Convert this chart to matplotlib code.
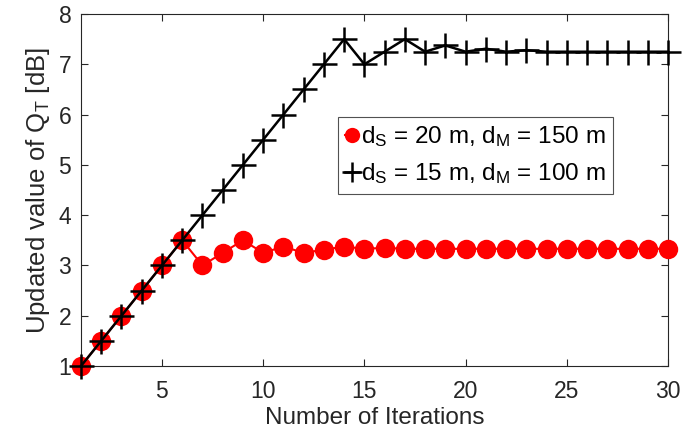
import numpy as np
import matplotlib.pyplot as plt

# data
iterations = np.arange(1, 31)
q_red = [1, 1.5, 2, 2.5, 3, 3.5, 3.0, 3.25, 3.5, 3.25, 3.375, 3.25, 3.3125, 3.375, 3.33,
         3.35, 3.33, 3.33, 3.33, 3.33, 3.33, 3.33, 3.33, 3.33, 3.33, 3.33, 3.33, 3.33, 3.33, 3.33]
q_black = [1, 1.5, 2, 2.5, 3, 3.5, 4, 4.5, 5, 5.5, 6, 6.5, 7, 7.5, 7.0,
           7.25, 7.5, 7.25, 7.375, 7.25, 7.31, 7.25, 7.28, 7.25, 7.25, 7.25, 7.25, 7.25, 7.25, 7.25]
labels = [r'd$_S$ = 20 m, d$_M$ = 150 m', r'd$_S$ = 15 m, d$_M$ = 100 m']
x_ticks = [5, 10, 15, 20, 25, 30]
y_ticks = [1, 2, 3, 4, 5, 6, 7, 8]

plt.rcParams['font.family'] = ['Liberation Sans', 'DejaVu Sans']
plt.rcParams['mathtext.default'] = 'regular'

fig = plt.figure(figsize=(6.83, 4.36), dpi=100)
ax = fig.add_axes([81 / 683, 1 - 366 / 436, (668 - 81) / 683, (366 - 14) / 436])

ax.plot(iterations, q_red, '-o', color='#ff0000', lw=1.5, markersize=14,
        markeredgewidth=0, label=labels[0], clip_on=False, zorder=3)
ax.plot(iterations, q_black, '-+', color='black', lw=1.8, markersize=18,
        markeredgewidth=1.8, label=labels[1], clip_on=False, zorder=4)

ax.set_xlim(1, 30)
ax.set_ylim(1, 8)
ax.set_xticks(x_ticks)
ax.set_yticks(y_ticks)
ax.tick_params(direction='in', labelsize=16.5, colors='#262626', length=5,
               top=True, right=True, labeltop=False, labelright=False)
ax.tick_params(axis='x', pad=10)
ax.tick_params(axis='y', pad=7)
for s in ax.spines.values():
    s.set_color('#262626')
    s.set_linewidth(0.8)

ax.set_xlabel('Number of Iterations', fontsize=17.5, color='#262626', labelpad=3)
ax.set_ylabel(r'Updated value of Q$_T$ [dB]', fontsize=18.5, color='#262626', labelpad=5)

leg = ax.legend(loc='upper left', bbox_to_anchor=((338 - 81) / 587, (366 - 117) / 352),
                fontsize=17.5, frameon=True, fancybox=False, handlelength=0.55,
                handletextpad=0.1, borderpad=0.3, labelspacing=0.5, borderaxespad=0)
leg.get_frame().set_edgecolor('#262626')
leg.get_frame().set_linewidth(0.8)
leg.legend_handles[0].set_markersize(11)
leg.legend_handles[1].set_markersize(14)

plt.savefig('out.png', dpi=100)
plt.close()
